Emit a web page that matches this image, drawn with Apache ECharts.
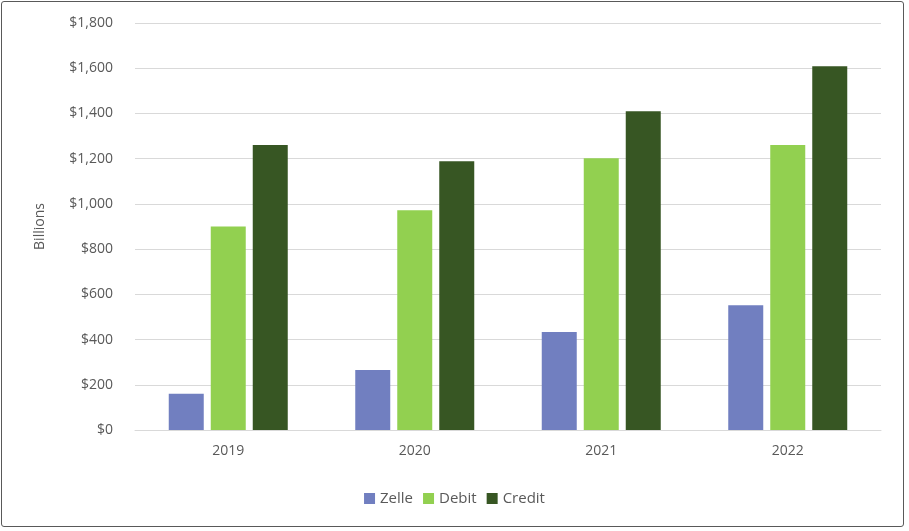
<!DOCTYPE html>
<html>
<head>
<meta charset="utf-8">
<script src="https://cdn.jsdelivr.net/npm/echarts@6/dist/echarts.min.js"></script>
<style>
  html, body { margin: 0; padding: 0; background: #fff; }
  #box { position: absolute; left: 1px; top: 1px; width: 903px; height: 526px; border: 1.5px solid #595959; border-radius: 3px; box-sizing: border-box; }
  #chart { width: 909px; height: 531px; }
</style>
</head>
<body>
<div id="box"></div>
<div id="chart"></div>
<script>
const years = ["2019", "2020", "2021", "2022"];
const zelle = [160, 265, 433, 552];
const debit = [900, 972, 1202, 1260];
const credit = [1260, 1189, 1410, 1609];

const chart = echarts.init(document.getElementById("chart"));
const txt = { color: "#595959", fontFamily: "Open Sans", fontSize: 14 };
chart.setOption({
  animation: false,
  textStyle: { fontFamily: "Open Sans" },
  legend: {
    bottom: 20, itemWidth: 11, itemHeight: 11, itemGap: 10,
    textStyle: { color: "#595959", fontFamily: "Open Sans", fontSize: 15 },
    icon: "rect"
  },
  grid: { left: 135, right: 28, top: 23, bottom: 101 },
  xAxis: {
    type: "category", data: years,
    axisLine: { lineStyle: { color: "#d9d9d9" } },
    axisTick: { show: false },
    axisLabel: Object.assign({ margin: 14 }, txt)
  },
  yAxis: {
    type: "value", min: 0, max: 1800, interval: 200,
    name: "Billions", nameLocation: "middle", nameGap: 88,
    nameTextStyle: txt,
    axisLabel: Object.assign({ margin: 22, formatter: v => "$" + v.toLocaleString("en-US") }, txt),
    splitLine: { lineStyle: { color: "#d9d9d9" } }
  },
  series: [
    { name: "Zelle", type: "bar", data: zelle, barWidth: 35, barGap: "20%", itemStyle: { color: "#717fc0" } },
    { name: "Debit", type: "bar", data: debit, barWidth: 35, barGap: "20%", itemStyle: { color: "#92d050" } },
    { name: "Credit", type: "bar", data: credit, barWidth: 35, barGap: "20%", itemStyle: { color: "#375623" } }
  ]
});
</script>
</body>
</html>
